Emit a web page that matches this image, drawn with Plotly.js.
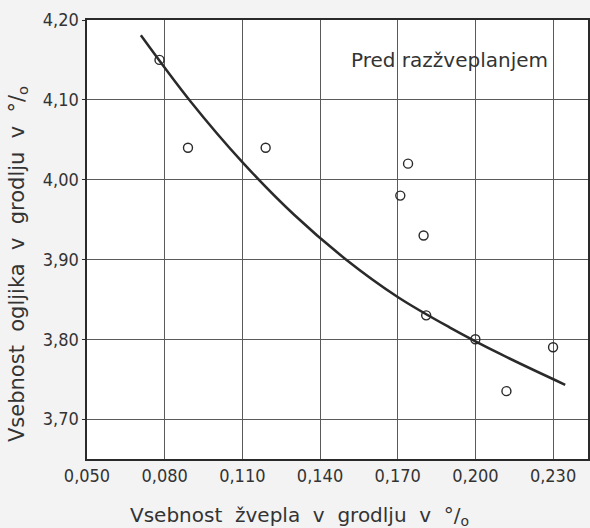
<!DOCTYPE html>
<html>
<head>
<meta charset="utf-8">
<script src="https://cdn.plot.ly/plotly-3.0.1.min.js"></script>
<style>html,body{margin:0;padding:0;background:#f3f3f3;}#chart{width:590px;height:528px;}</style>
</head>
<body>
<div id="chart"></div>
<script>
// Measured points (sulphur %, carbon %)
const sulphur = [0.078, 0.089, 0.119, 0.174, 0.171, 0.180, 0.181, 0.200, 0.212, 0.230];
const carbon  = [4.15, 4.04, 4.04, 4.02, 3.98, 3.93, 3.83, 3.80, 3.735, 3.79];

// Hand-drawn trend curve
const curveX = [0.0708, 0.090, 0.110, 0.130, 0.150, 0.170, 0.190, 0.210, 0.2347];
const curveY = [4.181, 4.098, 4.022, 3.956, 3.900, 3.853, 3.815, 3.781, 3.743];

const xTicks = [0.050, 0.080, 0.110, 0.140, 0.170, 0.200, 0.230];
const yTicks = [3.70, 3.80, 3.90, 4.00, 4.10, 4.20];

const xTitle = 'Vsebnost  žvepla  v  grodlju  v  °/<sub>o</sub>';
const yTitle = 'Vsebnost  ogljika  v  grodlju  v  °/<sub>o</sub>';
const label = 'Pred razžveplanjem';

const FONT = '"DejaVu Sans Condensed", "DejaVu Sans", sans-serif';
const FONT2 = '"DejaVu Sans", sans-serif';
const INK = '#333333';

const traces = [
  {x: curveX, y: curveY, mode: 'lines', line: {shape: 'spline', smoothing: 1.0, color: '#2a2a2a', width: 2.5}, hoverinfo: 'skip'},
  {x: sulphur, y: carbon, mode: 'markers', marker: {symbol: 'circle-open', size: 9, color: '#2a2a2a', line: {width: 1.4, color: '#2a2a2a'}}}
];

const layout = {
  width: 590, height: 528,
  margin: {l: 87, r: 2, t: 20, b: 69},
  paper_bgcolor: '#f3f3f3', plot_bgcolor: '#ffffff',
  showlegend: false,
  separators: ', ',
  font: {family: FONT, color: INK, size: 18},
  xaxis: {
    range: [0.050, 0.2435], tickvals: xTicks, tickformat: '.3f',
    showgrid: true, gridcolor: '#5a5a5a', gridwidth: 1,
    showline: true, linecolor: '#2a2a2a', linewidth: 1.6, mirror: true,
    zeroline: false, ticks: '', ticklen: 0,
    tickfont: {family: FONT, size: 18, color: INK}
  },
  yaxis: {
    range: [3.65, 4.20], tickvals: yTicks, tickformat: '.2f',
    showgrid: true, gridcolor: '#5a5a5a', gridwidth: 1,
    showline: true, linecolor: '#2a2a2a', linewidth: 1.6, mirror: true,
    zeroline: false, ticks: 'outside', ticklen: 3, tickcolor: '#2a2a2a',
    tickfont: {family: FONT, size: 18, color: INK}
  },
  annotations: [
    {text: label, xref: 'paper', yref: 'paper', x: (449-87)/501, y: (459-60)/439,
     showarrow: false, xanchor: 'center', yanchor: 'middle', font: {family: FONT2, size: 20, color: INK}},
    {text: xTitle, xref: 'paper', yref: 'paper', x: (299-87)/501, y: (459-516)/439,
     showarrow: false, xanchor: 'center', yanchor: 'middle', font: {family: FONT2, size: 20, color: INK}},
    {text: yTitle, xref: 'paper', yref: 'paper', x: (18-87)/501, y: (459-264)/439, textangle: -90,
     showarrow: false, xanchor: 'center', yanchor: 'middle', font: {family: FONT2, size: 21, color: INK}}
  ]
};

Plotly.newPlot('chart', traces, layout, {staticPlot: true});
</script>
</body>
</html>
